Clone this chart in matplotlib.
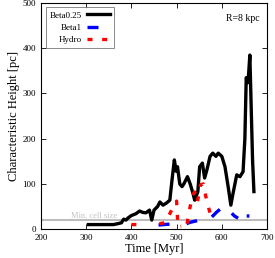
import numpy as np
import matplotlib.pyplot as plt

nan = np.nan

# Beta0.25 run
t_b025 = [305, 320, 340, 360, 370, 378, 383, 388, 393, 400, 410, 418, 425, 432, 440,
          445, 450, 458, 463, 470, 478, 485, 490, 495, 499, 502, 507, 512, 516, 524,
          530, 536, 540, 547, 551, 557, 562, 567, 574, 580, 587, 592, 600, 607, 614,
          620, 625, 633, 640, 647, 651, 654, 658, 662, 668, 671]
h_b025 = [10, 10, 10, 10, 12, 14, 22, 20, 25, 30, 34, 40, 37, 36, 42,
          20, 42, 50, 60, 53, 58, 64, 110, 153, 128, 138, 100, 94, 100, 116,
          100, 80, 64, 83, 138, 146, 113, 131, 161, 168, 161, 168, 161, 138, 94,
          53, 80, 120, 116, 127, 200, 335, 324, 385, 153, 83]

# Beta1 run
t_b1 = [460, 472, 485, nan, 522, 530, 547, nan, 578, 588, 596, nan, 622, 628, 636, nan, 655, 661]
h_b1 = [9, 10, 11, nan, 12, 15, 19, nan, 27, 37, 44, nan, 35, 29, 24, nan, 29, 29]

# Hydro run
t_hy = [400, 414, nan, 462, 474, 480, 488, 494, 500, 503, 510, nan, 523, 528, 535, 540,
        546, 553, 559, 564, 570, 576, 580]
h_hy = [10, 10, nan, 12, 14, 25, 40, 52, 62, 5, 6, nan, 12, 40, 75, 82,
        60, 98, 100, 75, 50, 28, 22]

min_cell = 20

plt.rcParams['font.family'] = ['Liberation Serif', 'DejaVu Serif']

fig = plt.figure(figsize=(2.75, 2.58), dpi=100)
ax = fig.add_axes([0.149, 0.112, 0.822, 0.876])

ax.axhline(min_cell, color='#bdbdbd', lw=1.5, zorder=1)
ax.text(266, min_cell + 1, 'Min. cell size', color='#c0c0c0', fontsize=6,
        ha='left', va='bottom')

ax.plot(t_b025, h_b025, color='black', lw=2.4, label='Beta0.25', zorder=3)
ax.plot(t_b1, h_b1, color='blue', lw=2.4, dashes=(3.3, 5.0), label='Beta1', zorder=4)
ax.plot(t_hy, h_hy, color='red', lw=2.4, dashes=(1.5, 2.9), label='Hydro', zorder=5)

ax.set_xlim(200, 700)
ax.set_ylim(0, 500)
ax.set_xticks(np.arange(200, 701, 100))
ax.set_yticks(np.arange(0, 501, 100))
ax.tick_params(direction='in', top=True, right=True, labelsize=6.5, length=3.5, width=0.6)
for s in ax.spines.values():
    s.set_linewidth(0.8)

ax.set_xlabel('Time [Myr]', fontsize=9, labelpad=1)
ax.set_ylabel('Characteristic Height [pc]', fontsize=9, labelpad=2)

ax.text(0.969, 0.934, 'R=8 kpc', transform=ax.transAxes, fontsize=7,
        ha='right', va='center')

leg = ax.legend(loc='upper left', bbox_to_anchor=(0.022, 0.982), borderaxespad=0,
                markerfirst=False, fontsize=6.5, fancybox=False, handlelength=2.6,
                handletextpad=0.5, labelspacing=0.45, borderpad=0.45)
leg.get_frame().set_edgecolor('#555555')
leg.get_frame().set_linewidth(0.6)

fig.savefig('out.png', dpi=100)
